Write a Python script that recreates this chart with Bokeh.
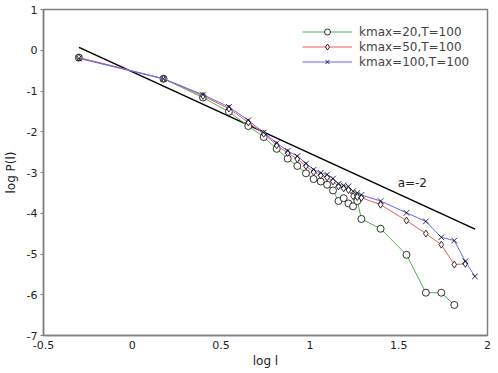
from bokeh.plotting import figure
from bokeh.models import FixedTicker, Legend, LegendItem, Label, ColumnDataSource
from bokeh.embed import file_html
from bokeh.resources import INLINE

# log of bin centres
x20 = [-0.301, 0.176, 0.398, 0.544, 0.653, 0.740, 0.813, 0.875, 0.929, 0.978, 1.021,
       1.061, 1.097, 1.130, 1.161, 1.190, 1.217, 1.243, 1.267, 1.290, 1.398, 1.544,
       1.653, 1.740, 1.813]
y20 = [-0.18, -0.70, -1.16, -1.51, -1.86, -2.13, -2.42, -2.66, -2.84, -3.02, -3.16,
       -3.22, -3.30, -3.44, -3.70, -3.63, -3.76, -3.83, -3.70, -4.14, -4.38, -5.02,
       -5.95, -5.95, -6.25]

x50 = [-0.301, 0.176, 0.398, 0.544, 0.653, 0.740, 0.813, 0.875, 0.929, 0.978, 1.021,
       1.061, 1.097, 1.130, 1.161, 1.190, 1.217, 1.243, 1.267, 1.290, 1.398, 1.544,
       1.653, 1.740, 1.813, 1.875]
y50 = [-0.18, -0.70, -1.12, -1.43, -1.77, -2.05, -2.33, -2.52, -2.67, -2.84, -2.99,
       -3.07, -3.12, -3.22, -3.34, -3.39, -3.43, -3.58, -3.60, -3.62, -3.79, -4.18,
       -4.50, -4.77, -5.26, -5.24]

x100 = [-0.301, 0.176, 0.398, 0.544, 0.653, 0.740, 0.813, 0.875, 0.929, 0.978, 1.021,
        1.061, 1.097, 1.130, 1.161, 1.190, 1.217, 1.243, 1.267, 1.290, 1.398, 1.544,
        1.653, 1.740, 1.813, 1.875, 1.929]
y100 = [-0.20, -0.70, -1.09, -1.39, -1.72, -2.02, -2.28, -2.47, -2.60, -2.78, -2.93,
        -3.01, -3.05, -3.15, -3.28, -3.32, -3.34, -3.46, -3.50, -3.55, -3.70, -3.99,
        -4.20, -4.59, -4.67, -5.18, -5.55]

fit_x = [-0.30, 1.93]
fit_y = [0.07, -4.39]

labels = ["kmax=20,T=100", "kmax=50,T=100", "kmax=100,T=100"]
x_ticks = [-0.5, 0, 0.5, 1, 1.5, 2]
x_tick_labels = ["-0.5", "0", "0.5", "1", "1.5", "2"]
y_ticks = [-7, -6, -5, -4, -3, -2, -1, 0, 1]

FONT = "DejaVu Sans"
GRAY = "#808080"

p = figure(width=498, height=373, x_range=(-0.5, 2), y_range=(-7, 1),
           output_backend="svg", toolbar_location=None,
           min_border_left=42, min_border_right=11, min_border_top=9, min_border_bottom=38)
p.grid.visible = False
p.outline_line_color = GRAY
p.outline_line_width = 1.5

p.xaxis.ticker = FixedTicker(ticks=x_ticks)
p.xaxis.major_label_overrides = {t: s for t, s in zip(x_ticks, x_tick_labels)}
p.yaxis.ticker = FixedTicker(ticks=y_ticks)
p.yaxis.major_label_overrides = {t: str(t) for t in y_ticks}
for ax in (p.xaxis, p.yaxis):
    ax.axis_line_color = GRAY
    ax.axis_line_width = 1.5
    ax.major_tick_line_color = GRAY
    ax.minor_tick_line_color = None
    ax.major_label_text_font = FONT
    ax.major_label_text_font_size = "11px"
    ax.major_label_text_color = "#222222"
    ax.axis_label_text_font = FONT
    ax.axis_label_text_font_size = "12px"
    ax.axis_label_text_font_style = "normal"
    ax.axis_label_text_color = "#222222"
p.xaxis.major_tick_out = 0
p.xaxis.major_tick_in = 0
p.yaxis.major_tick_out = 3
p.yaxis.major_tick_in = 0
p.xaxis.major_label_standoff = 5
p.xaxis.axis_label_standoff = 2
p.yaxis.major_label_standoff = 3
p.yaxis.axis_label_standoff = 6
p.xaxis.axis_label = "log l"
p.yaxis.axis_label = "log P(l)"

p.line(fit_x, fit_y, line_color="black", line_width=1.5)

colors = ["#4fb04f", "#f05a5a", "#6464ff"]
markers = ["circle", "diamond", "x"]
sizes = [7, 7, 8]
series = [(x20, y20), (x50, y50), (x100, y100)]
items = []
for (xs, ys), c, m, s, lab in zip(series, colors, markers, sizes, labels):
    src = ColumnDataSource(dict(x=xs, y=ys))
    r1 = p.line("x", "y", source=src, line_color=c, line_width=1)
    r2 = p.scatter("x", "y", source=src, marker=m, size=s, line_color="black",
                   fill_color="white", line_width=0.8)
    items.append(LegendItem(label=lab, renderers=[r1, r2]))

legend = Legend(items=items, location=(259, 266), padding=0, spacing=0,
                glyph_width=50, glyph_height=15, label_height=15, label_standoff=7,
                label_text_font=FONT, label_text_font_size="12px",
                border_line_alpha=0, background_fill_alpha=0)
p.add_layout(legend)

p.add_layout(Label(x=1.494, y=-3.26, text="a=-2", text_font=FONT,
                   text_font_size="12px", text_baseline="middle", text_color="#222222"))

open("out.html", "w").write(file_html(p, INLINE))
